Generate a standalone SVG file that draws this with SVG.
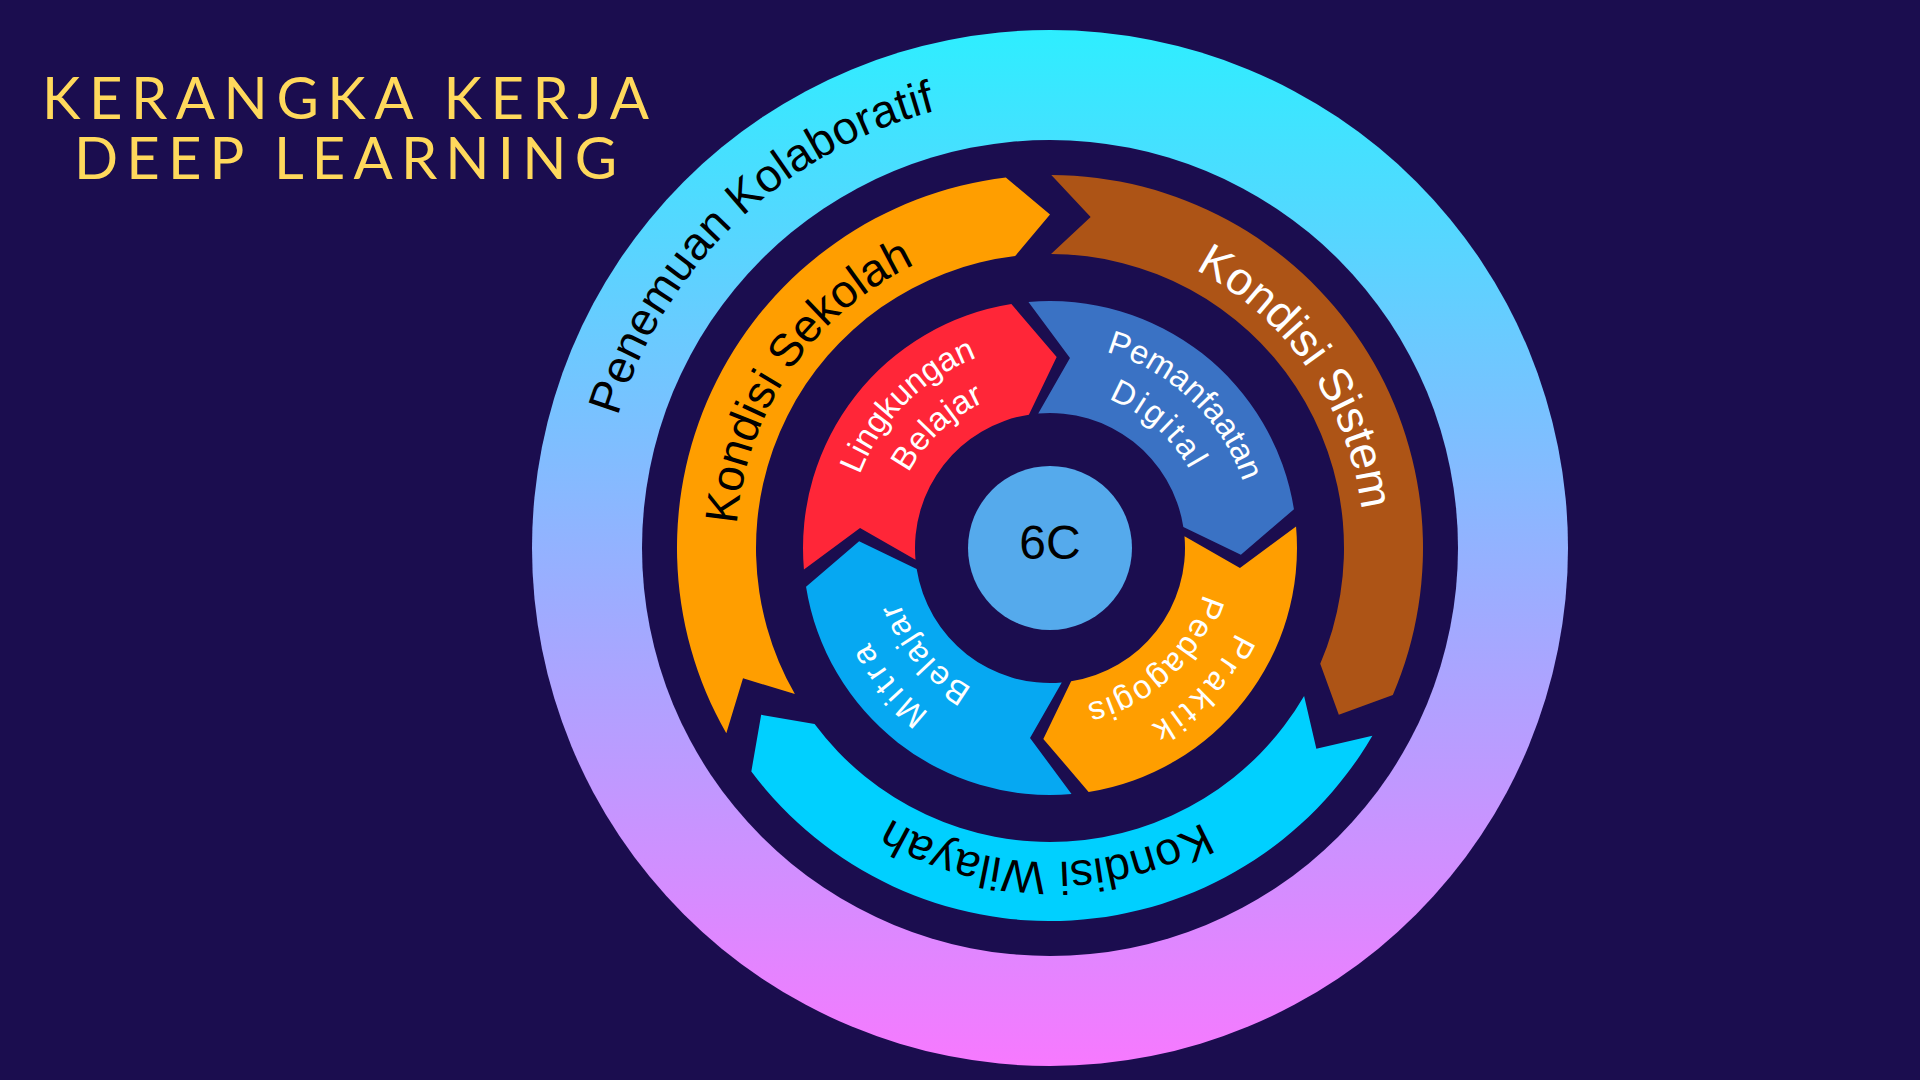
<svg xmlns="http://www.w3.org/2000/svg" xmlns:xlink="http://www.w3.org/1999/xlink" width="1920" height="1080" viewBox="0 0 1920 1080">
<defs>
<linearGradient id="ringGrad" gradientUnits="userSpaceOnUse" x1="0" y1="30" x2="0" y2="1066">
<stop offset="0" stop-color="#2EEEFF"/>
<stop offset="0.5" stop-color="#93B2FF"/>
<stop offset="1" stop-color="#F779FF"/>
</linearGradient>
<path id="arc452" d="M598,548 A452,452 0 0 1 1502,548"/>
<path id="arc314" d="M736,548 A314,314 0 0 1 1364,548"/>
<path id="arc204" d="M846,548 A204,204 0 0 1 1254,548"/>
<path id="arc160" d="M890,548 A160,160 0 0 1 1210,548"/>
<style>
.t-title{font-family:Lato,"Liberation Sans",sans-serif;font-size:58px;font-weight:400;fill:#FFD95C;}
.t-big{font-family:"Liberation Sans",Arial,sans-serif;font-size:46px;}
.t-outer{font-family:"Liberation Sans",Arial,sans-serif;font-size:46px;fill:#000;letter-spacing:0.3px;}
.t-in{font-family:"Liberation Sans",Arial,sans-serif;font-size:33px;fill:#FFFFFF;}
.dark{fill:#000;}
.light{fill:#FFFFFF;}
</style>
</defs>
<rect x="0" y="0" width="1920" height="1080" fill="#1B0D4F"/>
<g id="title">
<text class="t-title" x="42" y="119" textLength="607" lengthAdjust="spacing">KERANGKA KERJA</text>
<text class="t-title" x="74" y="179" textLength="543" lengthAdjust="spacing">DEEP LEARNING</text>
</g>
<g id="penemuan-kolaboratif">
<circle cx="1050" cy="548" r="518" fill="url(#ringGrad)"/>
<circle cx="1050" cy="548" r="408" fill="#1B0D4F"/>
<text class="t-outer" transform="rotate(-43.8 1050 548)"><textPath href="#arc452" xlink:href="#arc452" startOffset="50%" text-anchor="middle">Penemuan Kolaboratif</textPath></text>
</g>
<g id="kondisi-sekolah">
<path fill="#FF9E00" d="M726.32,733.37 A373,373 0 0 1 1005.84,177.62 L1050,214.5 L1015.19,256.07 A294,294 0 0 0 794.88,694.11 L743.01,678.31 Z"/>
<text class="t-big dark" transform="rotate(-55.6 1050 548)"><textPath href="#arc314" xlink:href="#arc314" startOffset="50%" text-anchor="middle">Kondisi Sekolah</textPath></text>
</g>
<g id="kondisi-sistem">
<path fill="#AD5416" d="M1051.30,175.00 A373,373 0 0 1 1392.84,694.94 L1338.82,714.75 L1320.23,663.82 A294,294 0 0 0 1051.03,254.00 L1090.64,216.98 Z"/>
<text class="t-big light" transform="rotate(55.3 1050 548)"><textPath href="#arc314" xlink:href="#arc314" startOffset="50%" text-anchor="middle">Kondisi Sistem</textPath></text>
</g>
<g id="kondisi-wilayah">
<path fill="#00D0FF" d="M1372.38,735.63 A373,373 0 0 1 751.33,771.43 L761.18,714.75 L814.59,724.11 A294,294 0 0 0 1304.10,695.89 L1316.35,748.71 Z"/>
<text class="t-big dark" transform="rotate(180.7 1050 548)"><textPath href="#arc314" xlink:href="#arc314" startOffset="50%" text-anchor="middle">Kondisi Wilayah</textPath></text>
</g>
<g id="lingkungan-belajar">
<path fill="#FF2638" d="M803.94,569.53 A247,247 0 0 1 1011.36,304.04 L1056.67,357.12 L1028.88,414.66 A135,135 0 0 0 915.51,559.77 L860.05,528.03 Z"/>
<text class="t-in" transform="rotate(-45 1050 548)"><textPath href="#arc204" xlink:href="#arc204" startOffset="50%" text-anchor="middle">Lingkungan</textPath></text>
<text class="t-in" transform="rotate(-43 1050 548)" letter-spacing="0.5"><textPath href="#arc160" xlink:href="#arc160" startOffset="50%" text-anchor="middle">Belajar</textPath></text>
</g>
<g id="pemanfaatan-digital">
<path fill="#3A72C4" d="M1028.47,301.94 A247,247 0 0 1 1293.96,509.36 L1240.88,554.67 L1183.34,526.88 A135,135 0 0 0 1038.23,413.51 L1069.97,358.05 Z"/>
<text class="t-in" transform="rotate(43.5 1050 548)"><textPath href="#arc204" xlink:href="#arc204" startOffset="50%" text-anchor="middle">Pemanfaatan</textPath></text>
<text class="t-in" transform="rotate(41.5 1050 548)" letter-spacing="3"><textPath href="#arc160" xlink:href="#arc160" startOffset="50%" text-anchor="middle">Digital</textPath></text>
</g>
<g id="praktik-pedagogis">
<path fill="#FF9E00" d="M1296.06,526.47 A247,247 0 0 1 1088.64,791.96 L1043.33,738.88 L1071.12,681.34 A135,135 0 0 0 1184.49,536.23 L1239.95,567.97 Z"/>
<text class="t-in" transform="rotate(133 1050 548)" letter-spacing="4.5"><textPath href="#arc204" xlink:href="#arc204" startOffset="50%" text-anchor="middle">Praktik</textPath></text>
<text class="t-in" transform="rotate(137 1050 548)" letter-spacing="1.5"><textPath href="#arc160" xlink:href="#arc160" startOffset="50%" text-anchor="middle">Pedagogis</textPath></text>
</g>
<g id="mitra-belajar">
<path fill="#06A8F2" d="M1071.53,794.06 A247,247 0 0 1 806.04,586.64 L859.12,541.33 L916.66,569.12 A135,135 0 0 0 1061.77,682.49 L1030.03,737.95 Z"/>
<text class="t-in" transform="rotate(230 1050 548)" letter-spacing="5"><textPath href="#arc204" xlink:href="#arc204" startOffset="50%" text-anchor="middle">Mitra</textPath></text>
<text class="t-in" transform="rotate(230 1050 548)" letter-spacing="2"><textPath href="#arc160" xlink:href="#arc160" startOffset="50%" text-anchor="middle">Belajar</textPath></text>
</g>
<g id="center-6c">
<circle cx="1050" cy="548" r="82" fill="#55AAEC"/>
<text x="1050" y="559" text-anchor="middle" font-family="Liberation Sans, Arial, sans-serif" font-size="48" fill="#000">6C</text>
</g>
<g id="connectors"/>
</svg>
